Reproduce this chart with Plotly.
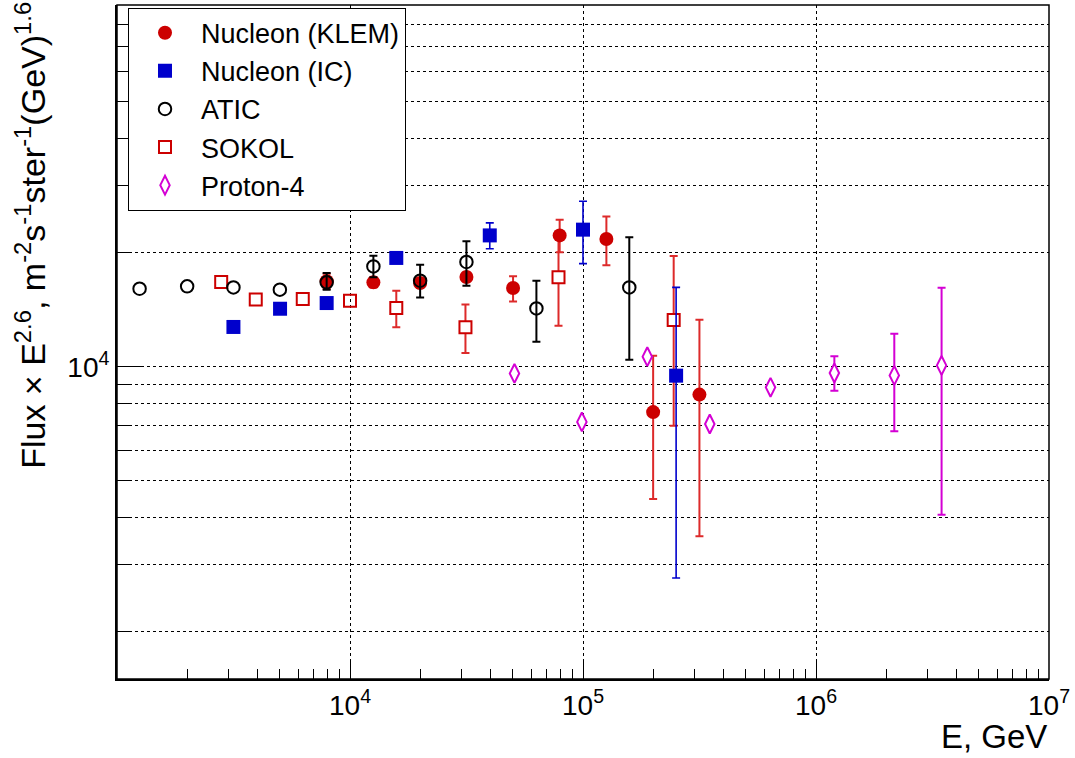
import plotly.graph_objects as go

# ---------------- data ----------------
klem_E = [7940, 12600, 20000, 31600, 50100, 79400, 126000, 200000, 316000]
klem_F = [16800, 16690, 16630, 17250, 16130, 22200, 21720, 7590, 8440]
klem_up = [800, 500, 500, 500, 1180, 2230, 3200, 3100, 4870]
klem_dn = [770, 500, 500, 500, 1260, 2170, 3210, 3110, 4870]

ic_E = [3160, 5010, 7940, 15800, 39800, 100000, 251000]
ic_F = [12730, 14220, 14720, 19360, 22200, 22990, 9470]
ic_up = [0, 0, 0, 0, 1750, 4320, 6720]
ic_dn = [0, 0, 0, 0, 1720, 4290, 6700]

atic_E = [1250, 2000, 3160, 5000]
atic_F = [16060, 16290, 16190, 15970]
atic_eE = [7940, 12600, 20000, 31600, 63100, 158000]
atic_eF = [16690, 18390, 16860, 18890, 14250, 16190]
atic_up = [980, 1240, 1720, 2520, 2610, 5750]
atic_dn = [720, 1180, 1630, 2530, 2610, 5760]

sokol_E = [2800, 3940, 6270, 10000]
sokol_F = [16730, 15030, 15090, 14930]
sokol_eE = [15800, 31300, 78500, 245000]
sokol_eF = [14290, 12700, 17210, 13280]
sokol_up = [1580, 1880, 5500, 6310]
sokol_dn = [1590, 1830, 4380, 6290]

p4_E = [50800, 98900, 188800, 350000, 638000]
p4_F = [9600, 7150, 10630, 7060, 8820]
p4_eE = [1199000, 2168000, 3459000]
p4_eF = [9625, 9485, 10080]
p4_up = [1025, 2735, 6080]
p4_dn = [980, 2734, 6010]

x_major = [1e4, 1e5, 1e6, 1e7]
x_major_text = ["10<sup>4</sup>", "10<sup>5</sup>", "10<sup>6</sup>", "10<sup>7</sup>"]
y_major = [1e4]
y_major_text = ["10<sup>4</sup>"]

FONT = "Liberation Sans, Arial, Helvetica, sans-serif"
RED = "#cc0000"
RED_BAR = "#dd2a2a"
BLUE = "#0000cc"
MAG = "#d400d4"

x_minor = [m * 10 ** d for d in range(3, 7) for m in range(2, 10)]
y_minor = [m * 10 ** d for d in range(3, 5) for m in range(2, 10)]

fig = go.Figure()

def err(up, dn, color, th=2):
    return dict(type="data", array=up, arrayminus=dn, symmetric=False,
                color=color, thickness=th, width=4)

# drawing order: SOKOL, KLEM, IC, ATIC, Proton-4
fig.add_trace(go.Scatter(x=sokol_E, y=sokol_F, mode="markers", name="SOKOL",
    legendgroup="d", legendrank=4, showlegend=True,
    marker=dict(symbol="square", size=12, color="rgba(0,0,0,0)", line=dict(color=RED, width=2))))
fig.add_trace(go.Scatter(x=sokol_eE, y=sokol_eF, mode="markers", name="SOKOL",
    legendgroup="d", showlegend=False, error_y=err(sokol_up, sokol_dn, RED_BAR),
    marker=dict(symbol="square", size=12, color="white", line=dict(color=RED, width=2))))

fig.add_trace(go.Scatter(x=klem_E, y=klem_F, mode="markers", name="Nucleon (KLEM)",
    legendgroup="a", legendrank=1, error_y=err(klem_up, klem_dn, RED_BAR),
    marker=dict(symbol="circle", size=14, color=RED, line=dict(width=0))))

fig.add_trace(go.Scatter(x=ic_E, y=ic_F, mode="markers", name="Nucleon (IC)",
    legendgroup="b", legendrank=2, error_y=err(ic_up, ic_dn, BLUE, 1.6),
    marker=dict(symbol="square", size=14, color=BLUE, line=dict(width=0))))

fig.add_trace(go.Scatter(x=atic_E, y=atic_F, mode="markers", name="ATIC",
    legendgroup="c", legendrank=3,
    marker=dict(symbol="circle", size=12.5, color="rgba(0,0,0,0)", line=dict(color="black", width=2))))
fig.add_trace(go.Scatter(x=atic_eE, y=atic_eF, mode="markers", name="ATIC",
    legendgroup="c", showlegend=False, error_y=err(atic_up, atic_dn, "black"),
    marker=dict(symbol="circle", size=12.5, color="rgba(0,0,0,0)", line=dict(color="black", width=2))))

fig.add_trace(go.Scatter(x=p4_E, y=p4_F, mode="markers", name="Proton-4",
    legendgroup="e", legendrank=5,
    marker=dict(symbol="diamond-tall", size=13.5, color="white", line=dict(color=MAG, width=2))))
fig.add_trace(go.Scatter(x=p4_eE, y=p4_eF, mode="markers", name="Proton-4",
    legendgroup="e", showlegend=False, error_y=err(p4_up, p4_dn, MAG),
    marker=dict(symbol="diamond-tall", size=13.5, color="white", line=dict(color=MAG, width=2))))

fig.update_layout(
    width=1075, height=758,
    margin=dict(l=117, r=23, t=5, b=79),
    paper_bgcolor="white", plot_bgcolor="white",
    font=dict(family=FONT, size=26, color="black"),
    showlegend=True,
    legend=dict(x=0.0118, y=0.996, xanchor="left", yanchor="top",
                bgcolor="white", bordercolor="black", borderwidth=1,
                font=dict(family=FONT, size=27),
                itemwidth=62, traceorder="normal",
                entrywidth=285, entrywidthmode="pixels"),
    xaxis=dict(type="log", range=[3, 7], showline=True, linecolor="black", linewidth=2,
               ticks="inside", ticklen=20, tickwidth=1, tickcolor="black",
               tickvals=x_major, ticktext=x_major_text, tickfont=dict(size=28),
               showgrid=True, gridcolor="black", gridwidth=1, griddash="dot",
               minor=dict(tickvals=x_minor, ticks="inside", ticklen=10, tickcolor="black",
                          tickwidth=1, showgrid=False),
               zeroline=False),
    yaxis=dict(type="log", range=[3.1761, 4.9542], showline=True, linecolor="black", linewidth=2,
               ticks="inside", ticklen=26, tickwidth=1, tickcolor="black",
               tickvals=y_major, ticktext=y_major_text, tickfont=dict(size=28),
               showgrid=True, gridcolor="black", gridwidth=1, griddash="dot",
               minor=dict(tickvals=y_minor, ticks="inside", ticklen=13, tickcolor="black",
                          tickwidth=1, showgrid=True, gridcolor="black", gridwidth=1, griddash="dot"),
               zeroline=False),
    shapes=[dict(type="rect", xref="paper", yref="paper", x0=0, y0=0, x1=1, y1=1,
                 line=dict(color="black", width=1.5), layer="above")],
    annotations=[
        dict(text="Flux × E<sup>2.6</sup>, m<sup>-2</sup>s<sup>-1</sup>ster<sup>-1</sup>(GeV)<sup>1.6</sup>",
             xref="paper", yref="paper", x=-0.093, y=1.0, xanchor="center", yanchor="top",
             textangle=-90, showarrow=False, font=dict(family=FONT, size=34), yshift=5),
        dict(text="E, GeV", xref="paper", yref="paper", x=1.0, y=0, xanchor="right", yanchor="top",
             showarrow=False, font=dict(family=FONT, size=33), yshift=-37),
    ],
)

fig.write_html("out.html")
